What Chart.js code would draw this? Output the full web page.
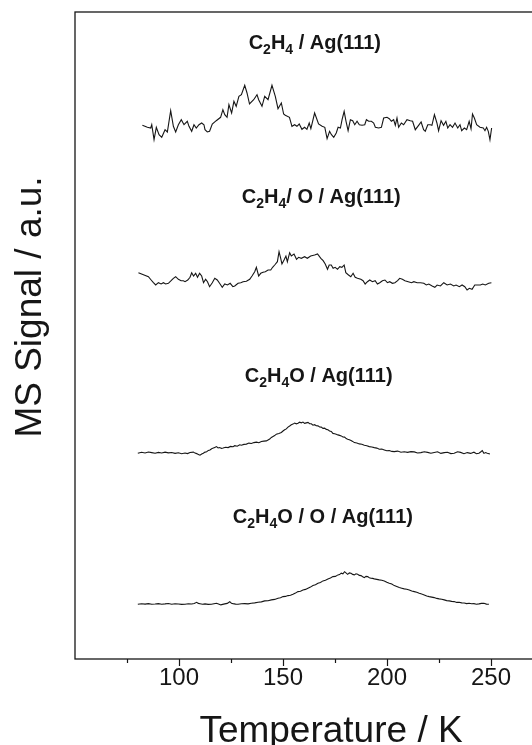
<!DOCTYPE html>
<html>
<head>
<meta charset="utf-8">
<script src="https://cdn.jsdelivr.net/npm/chart.js@4"></script>
<style>
  html, body { margin: 0; padding: 0; background: #fff; overflow: hidden; }
  #wrap { width: 600px; height: 745px; }
</style>
</head>
<body>
<div id="wrap"><canvas id="tpd" width="600" height="745"></canvas></div>
<script>
// TPD traces. Temperatures in K, signal in arbitrary units
// (traces are stacked, so each one keeps its own offset).
const c2h4Temp = [82.4,84.8,86.4,86.9,88.0,89.1,90.4,91.7,93.3,94.4,96.0,97.3,98.4,99.7,101.1,102.4,104.0,104.8,106.1,107.2,108.3,109.6,110.9,112.0,112.5,113.6,114.7,116.0,117.9,120.0,121.1,122.0,123.1,124.0,125.3,126.4,127.5,128.8,130.0,131.6,132.7,133.9,135.9,137.5,138.3,139.9,141.2,142.8,144.7,146.3,147.6,149.2,150.3,151.1,153.1,154.3,155.6,156.7,157.8,159.1,160.4,161.5,162.6,163.4,165.2,167.1,168.8,170.1,171.2,172.4,173.3,174.4,175.6,176.5,177.6,178.4,179.4,180.3,181.3,182.4,183.5,184.5,185.6,186.7,188.0,189.3,190.1,191.2,192.5,193.6,194.4,196.0,197.3,198.4,200.0,201.1,202.1,203.2,204.0,204.8,205.6,206.9,208.0,209.6,211.2,212.3,213.6,215.2,216.4,217.6,218.4,219.6,220.8,221.6,222.8,224.0,224.8,226.0,227.2,228.3,229.2,230.3,231.5,232.7,234.0,235.1,235.9,237.2,238.3,239.5,240.4,241.1,242.0,243.1,244.7,246.3,247.1,247.9,248.7,249.5,250.3];
const c2h4Signal = [533.7,531.7,531.0,534.3,519.3,531.7,524.3,521.7,529.3,527.0,548.3,532.7,527.0,534.3,539.3,534.3,537.7,532.7,527.7,534.3,531.0,534.3,536.0,534.3,529.3,527.0,527.7,535.0,538.3,541.7,549.3,544.3,541.7,554.3,546.0,557.7,552.7,562.7,564.3,573.7,566.0,555.0,559.3,564.3,559.3,552.7,562.7,559.3,573.7,562.7,550.3,556.0,545.0,543.7,541.7,532.7,534.3,532.7,535.0,529.7,531.7,529.7,536.0,530.3,546.0,535.0,532.7,531.7,520.3,527.7,524.3,521.7,526.0,531.7,531.0,539.3,547.7,537.7,528.3,539.3,538.3,534.3,537.7,534.3,533.7,534.3,539.3,537.7,537.7,536.0,531.7,531.0,531.7,541.0,541.7,540.3,537.7,539.3,533.7,541.0,531.7,536.0,534.3,539.3,538.3,537.7,529.3,533.7,537.0,529.3,527.7,534.3,534.3,533.7,544.3,536.0,528.3,538.3,533.7,537.7,531.0,534.3,531.7,536.0,531.0,534.3,528.3,531.0,529.3,537.7,530.3,545.0,541.0,534.3,531.7,531.0,528.3,531.7,527.7,519.3,531.0];

const c2h4OTemp = [80.5,82.9,85.3,86.6,87.7,88.8,90.1,91.4,92.5,93.6,94.9,96.2,97.3,98.4,99.7,101.0,102.1,102.9,104.2,105.3,106.1,107.0,108.0,108.9,109.9,110.9,111.8,112.8,113.7,114.7,116.0,117.2,118.4,119.5,120.8,122.0,123.3,124.6,125.9,126.8,128.4,129.7,130.8,132.4,134.0,135.1,136.4,137.2,138.3,139.3,140.4,141.5,142.8,144.1,145.0,146.0,147.3,148.1,148.9,149.5,150.5,151.4,152.1,153.2,154.0,155.3,156.5,157.5,158.8,160.4,161.7,163.3,165.2,166.6,168.2,169.3,170.3,171.4,172.2,173.2,174.1,175.1,176.2,177.3,178.3,179.4,180.2,181.5,182.6,183.7,184.7,185.8,187.4,188.5,189.5,190.6,191.7,193.0,194.3,195.4,196.5,197.8,199.0,200.2,201.3,202.6,203.8,205.1,206.1,207.4,208.6,210.2,211.8,212.9,214.5,216.1,217.7,218.9,220.1,221.7,223.0,224.1,225.7,227.3,228.9,230.5,232.1,233.2,234.8,236.1,237.4,238.5,239.6,240.9,242.2,243.3,244.9,246.0,247.3,248.9,250.2];
const c2h4OSignal = [386.3,384.3,382.3,379.0,376.3,374.0,376.3,375.0,376.3,375.0,375.7,378.3,380.7,382.3,379.7,378.3,378.3,377.3,379.0,381.7,386.3,383.0,385.7,381.7,385.7,383.0,376.3,379.7,377.3,372.3,376.3,380.7,379.0,375.7,371.7,375.0,374.0,375.7,372.3,373.0,375.7,376.3,377.3,377.7,379.7,383.0,387.3,391.7,383.0,385.7,386.7,387.3,389.0,389.0,391.7,394.0,397.3,407.3,400.7,395.0,399.0,403.0,397.3,406.3,403.0,405.0,399.7,401.7,400.7,402.3,400.7,403.0,404.0,405.0,400.7,398.3,395.0,389.7,394.0,394.0,390.7,391.7,389.7,392.3,391.7,394.0,386.3,384.0,382.3,385.7,381.7,380.7,379.7,378.3,375.0,377.3,379.0,377.3,378.3,375.0,376.3,378.3,379.0,376.3,377.3,375.7,376.3,378.3,380.7,379.7,378.3,377.3,376.3,377.3,376.3,376.3,375.7,374.0,375.0,373.0,371.7,374.0,373.0,376.3,374.0,375.0,373.0,374.0,372.3,374.0,372.3,369.0,370.7,369.7,374.0,374.0,374.0,375.0,374.0,375.7,376.3];

const eoTemp = [80.2,82.0,83.7,85.3,86.9,88.5,90.1,91.7,93.3,94.9,96.5,98.1,99.7,101.3,102.9,104.1,105.3,106.9,107.7,108.5,109.3,110.1,110.9,111.7,112.5,113.3,114.1,114.9,115.7,116.5,117.2,118.0,118.8,119.6,120.4,121.2,122.4,123.6,124.8,126.0,126.8,128.0,129.2,130.0,131.2,132.4,133.6,134.8,136.0,137.2,138.4,139.6,140.8,142.0,142.8,143.6,144.4,145.2,146.0,146.8,148.0,149.2,150.0,150.8,151.6,152.4,153.2,154.0,154.8,155.6,156.4,157.2,158.0,158.8,159.6,160.4,161.2,162.0,162.8,163.6,164.4,165.2,166.0,166.8,167.6,168.4,169.2,170.0,170.8,171.6,172.4,173.2,174.0,174.8,175.6,176.4,177.2,178.0,178.8,179.6,180.4,181.1,181.9,182.7,183.5,184.3,185.5,186.7,187.9,189.1,190.3,191.5,192.7,193.9,195.1,196.3,197.5,198.7,199.9,201.1,202.3,203.5,205.1,206.7,208.3,209.9,211.5,213.1,214.7,216.3,217.9,219.5,221.1,222.7,224.3,225.9,227.5,229.1,230.7,232.3,233.9,235.4,237.0,238.6,240.2,241.8,243.0,244.2,245.0,245.8,246.6,247.4,248.2,249.5];
const eoSignal = [205.7,206.8,206.0,207.0,206.4,205.8,206.6,206.0,206.9,206.1,206.5,205.6,206.2,205.3,206.0,205.4,206.5,206.9,205.9,205.4,204.6,203.8,205.0,205.7,206.9,207.3,208.6,209.0,210.3,210.9,211.6,212.4,211.0,211.5,210.6,211.0,211.8,211.4,212.6,212.3,213.3,212.8,214.2,213.8,214.6,214.9,215.9,215.5,216.4,216.9,216.3,217.5,217.9,218.1,219.0,219.9,221.6,222.5,223.4,224.8,225.6,226.5,228.0,229.2,230.1,231.9,233.0,234.3,234.9,235.9,235.2,235.8,236.8,236.2,236.9,235.6,236.1,236.6,235.3,235.2,233.8,234.3,233.3,233.1,232.0,231.9,230.6,230.9,229.6,229.2,228.0,227.5,225.6,225.2,224.8,224.1,223.6,223.1,222.0,221.9,220.4,219.8,219.3,218.5,217.6,216.4,216.0,215.1,214.8,213.8,213.2,212.4,212.0,211.4,210.9,209.8,210.0,209.1,208.2,208.5,207.6,207.4,207.9,206.8,207.3,206.6,207.4,207.1,206.0,206.4,207.2,206.6,205.7,206.5,207.2,205.6,206.4,206.8,205.4,205.8,207.2,206.6,205.3,206.4,205.6,206.8,205.3,205.8,207.0,208.4,205.6,206.4,205.8,205.0];

const eoOTemp = [80.2,82.0,83.7,85.3,86.9,88.5,90.1,91.7,93.3,94.9,96.5,98.1,99.7,101.3,102.9,104.5,106.1,107.3,108.5,109.3,110.1,111.3,112.5,114.0,115.6,116.8,118.0,119.0,120.1,121.0,122.0,123.2,124.4,125.2,126.0,127.2,128.4,130.0,131.6,133.2,134.8,136.4,138.0,139.6,141.2,142.8,144.4,146.0,147.6,148.8,150.0,151.2,152.4,153.6,154.8,156.0,157.2,158.4,159.6,160.8,162.0,163.2,164.4,165.6,166.8,168.0,169.2,170.4,171.6,172.8,174.0,175.2,176.4,177.2,178.0,178.8,179.6,180.4,181.1,181.9,182.7,183.5,184.3,185.1,185.9,186.7,187.5,188.3,189.1,189.9,190.7,191.5,192.3,193.1,193.9,195.1,196.3,197.5,198.7,199.9,201.1,202.3,203.5,204.7,205.9,207.1,208.3,209.5,210.7,211.9,213.1,214.3,215.5,216.7,217.9,219.1,220.3,221.5,222.7,223.9,225.1,226.3,227.5,228.7,229.9,231.1,232.3,233.5,234.7,235.9,237.1,238.3,239.5,240.7,241.8,243.0,244.2,245.4,246.6,247.8,249.0];
const eoOSignal = [54.7,55.3,54.9,55.4,54.7,55.0,55.4,54.8,55.1,55.5,54.7,55.2,55.0,54.6,54.8,55.3,55.0,55.5,56.7,55.6,55.3,54.8,55.1,54.6,54.8,55.3,55.8,55.0,54.1,54.6,55.1,55.6,57.3,55.8,55.4,54.9,54.8,55.3,55.4,55.1,55.8,56.1,56.8,57.1,58.1,58.3,59.1,59.6,60.8,61.3,62.4,62.6,63.4,63.8,64.8,65.9,67.4,67.8,69.1,69.6,70.8,71.9,73.4,74.3,75.8,76.6,78.1,78.8,80.1,81.0,82.4,82.6,84.1,84.4,85.8,85.2,87.3,85.9,84.7,86.1,85.8,84.6,84.1,85.2,84.8,83.6,83.4,82.2,81.4,82.6,82.4,81.2,80.8,80.6,80.1,79.6,79.1,78.7,78.1,76.8,75.8,74.9,73.4,72.5,71.4,70.8,70.1,69.8,69.1,68.0,67.4,66.8,65.8,64.9,64.1,63.0,62.4,61.9,61.4,60.6,60.1,59.8,59.1,58.4,58.1,57.6,57.4,56.6,56.8,56.1,56.0,55.4,55.8,55.2,55.4,54.8,55.1,55.6,55.8,54.9,54.7];

const xTicks = [50, 300, 25];   // min, max, step
const xTickLabels = [100, 150, 200, 250];

// trace captions; [text, subscript?] and where the first glyph sits (K, signal)
const captionParts = [
  [['C',0],['2',1],['H',0],['4',1],[' / Ag(111)',0]],
  [['C',0],['2',1],['H',0],['4',1],['/ O / Ag(111)',0]],
  [['C',0],['2',1],['H',0],['4',1],['O / Ag(111)',0]],
  [['C',0],['2',1],['H',0],['4',1],['O / O / Ag(111)',0]]
];
const captionTemp = [133.5, 130.2, 131.6, 125.9];
const captionSignal = [610.3, 455.7, 277.3, 135.7];

const FONT = '"Liberation Sans", Arial, Helvetica, sans-serif';
const INK = '#161616';

function pts(temps, vals) {
  return temps.map((t, i) => ({x: t, y: vals[i]}));
}

function trace(data) {
  return {
    data: data,
    borderColor: INK,
    borderWidth: 1.1,
    pointRadius: 0,
    tension: 0,
    fill: false
  };
}

const framePlugin = {
  id: 'frame',
  afterDraw(chart) {
    const ctx = chart.ctx;
    const a = chart.chartArea;
    const xs = chart.scales.x;
    const ys = chart.scales.y;
    ctx.save();
    ctx.strokeStyle = INK;
    ctx.lineWidth = 1.3;
    ctx.strokeRect(a.left, a.top, a.right - a.left, a.bottom - a.top);

    // outward ticks, long on the labelled ones
    ctx.lineWidth = 1.2;
    xs.ticks.forEach(t => {
      if (t.value <= xs.min || t.value >= xs.max) return;
      const px = Math.round(xs.getPixelForValue(t.value)) + 0.5;
      const len = xTickLabels.includes(t.value) ? 7 : 4;
      ctx.beginPath();
      ctx.moveTo(px, a.bottom);
      ctx.lineTo(px, a.bottom + len);
      ctx.stroke();
    });

    // captions
    ctx.fillStyle = INK;
    ctx.textBaseline = 'alphabetic';
    ctx.textAlign = 'left';
    captionParts.forEach((parts, i) => {
      let x = xs.getPixelForValue(captionTemp[i]);
      const y = ys.getPixelForValue(captionSignal[i]);
      parts.forEach(([txt, sub]) => {
        ctx.font = sub ? 'bold 14px ' + FONT : 'bold 20px ' + FONT;
        ctx.fillText(txt, x, sub ? y + 5 : y);
        x += ctx.measureText(txt).width;
      });
    });

    // axis titles
    ctx.font = '37px ' + FONT;
    ctx.textAlign = 'center';
    ctx.fillText('Temperature / K', 331, 742);
    ctx.translate(40.5, 307);
    ctx.rotate(-Math.PI / 2);
    ctx.fillText('MS Signal / a.u.', 0, 0);
    ctx.restore();
  }
};

new Chart(document.getElementById('tpd'), {
  type: 'line',
  data: {
    datasets: [
      trace(pts(c2h4Temp, c2h4Signal)),
      trace(pts(c2h4OTemp, c2h4OSignal)),
      trace(pts(eoTemp, eoSignal)),
      trace(pts(eoOTemp, eoOSignal))
    ]
  },
  options: {
    responsive: false,
    animation: false,
    devicePixelRatio: 1,
    layout: { padding: { top: 12, right: 3.6, left: 0, bottom: 0 } },
    plugins: { legend: { display: false }, tooltip: { enabled: false } },
    scales: {
      x: {
        type: 'linear',
        min: xTicks[0],
        max: xTicks[1],
        grid: { display: true, drawOnChartArea: false, drawTicks: false },
        border: { display: false },
        ticks: {
          stepSize: xTicks[2],
          autoSkip: false,
          maxRotation: 0,
          padding: 5,
          color: INK,
          font: { family: FONT, size: 24 },
          callback: v => xTickLabels.includes(v) ? String(v) : ''
        },
        afterFit: s => { s.height = 86; }
      },
      y: {
        min: 0,
        max: 647,
        grid: { display: false },
        border: { display: false },
        ticks: { display: false },
        afterFit: s => { s.width = 75; }
      }
    }
  },
  plugins: [framePlugin]
});
</script>
</body>
</html>
